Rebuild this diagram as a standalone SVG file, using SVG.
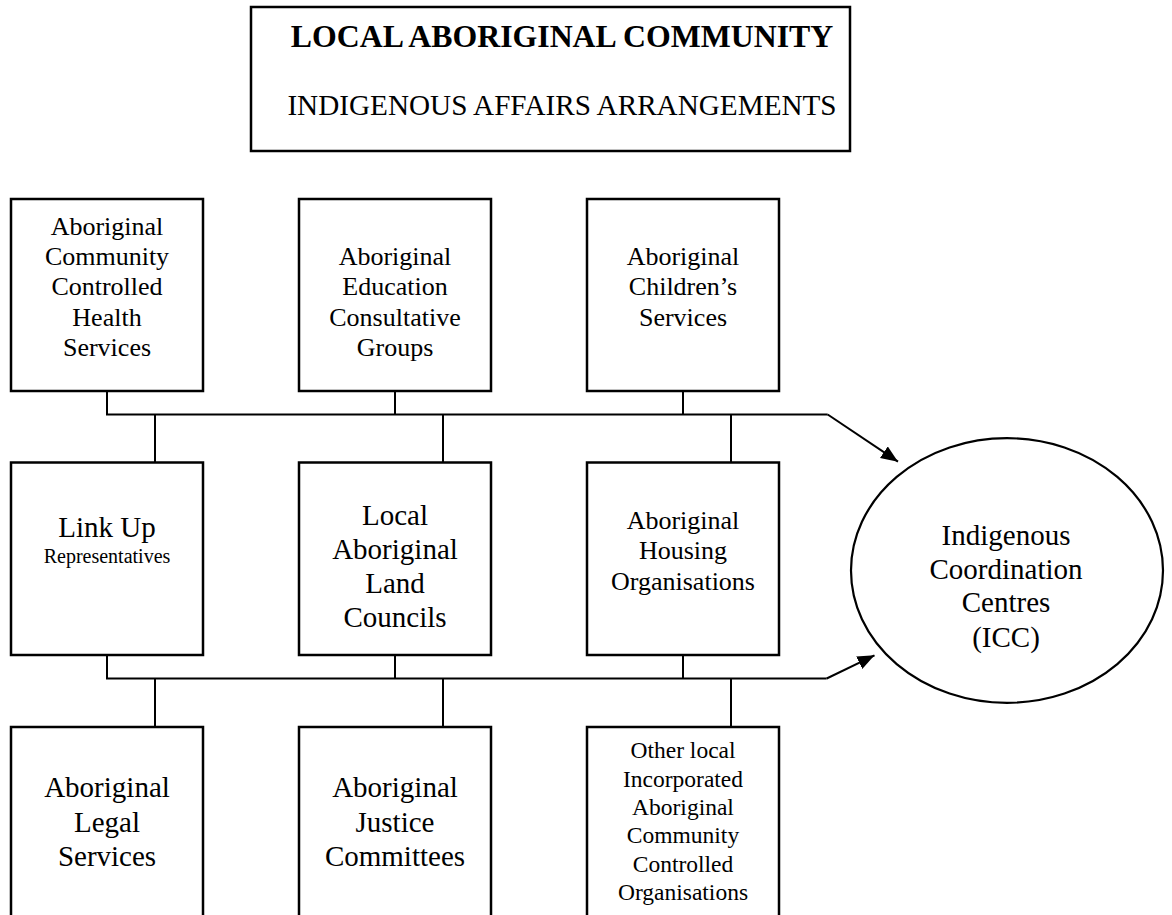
<svg xmlns="http://www.w3.org/2000/svg" width="1172" height="915" viewBox="0 0 1172 915">
<style>
  .box { fill: #ffffff; stroke: #000000; stroke-width: 2.5; }
  .ell { fill: #ffffff; stroke: #000000; stroke-width: 2.2; }
  .ln { fill: none; stroke: #000000; stroke-width: 2; }
  text { font-family: "Liberation Serif", "Times New Roman", serif; fill: #000000; text-anchor: middle; }
  .t26 { font-size: 26px; }
  .t29 { font-size: 29px; }
  .t24 { font-size: 23.5px; }
  .t20 { font-size: 20px; }
  .h1 { font-size: 31.8px; font-weight: bold; }
  .h2 { font-size: 29.2px; }
</style>
<defs>
  <marker id="arr" markerUnits="userSpaceOnUse" markerWidth="20" markerHeight="16" refX="17" refY="7" orient="auto">
    <path d="M0,0 L17,7 L0,14 Z" fill="#000000"/>
  </marker>
</defs>
<rect width="1172" height="915" fill="#ffffff"/>

<g id="title">
  <rect class="box" x="251" y="7" width="599" height="144"/>
  <text class="h1" x="562" y="47">LOCAL ABORIGINAL COMMUNITY</text>
  <text class="h2" x="562" y="115">INDIGENOUS AFFAIRS ARRANGEMENTS</text>
</g>

<g id="connectors">
  <polyline class="ln" points="107,391 107,414.5 827.7,414.5"/>
  <line class="ln" x1="395" y1="391" x2="395" y2="414.5"/>
  <line class="ln" x1="683" y1="391" x2="683" y2="414.5"/>
  <line class="ln" x1="155" y1="414.5" x2="155" y2="462.5"/>
  <line class="ln" x1="443" y1="414.5" x2="443" y2="462.5"/>
  <line class="ln" x1="731" y1="414.5" x2="731" y2="462.5"/>
  <line class="ln" x1="827.7" y1="414.5" x2="898" y2="461.7" marker-end="url(#arr)"/>

  <polyline class="ln" points="107,655 107,678.5 826.7,678.5"/>
  <line class="ln" x1="395" y1="655" x2="395" y2="678.5"/>
  <line class="ln" x1="683" y1="655" x2="683" y2="678.5"/>
  <line class="ln" x1="155" y1="678.5" x2="155" y2="727"/>
  <line class="ln" x1="443" y1="678.5" x2="443" y2="727"/>
  <line class="ln" x1="731" y1="678.5" x2="731" y2="727"/>
  <line class="ln" x1="826.7" y1="678.5" x2="874.5" y2="655.3" marker-end="url(#arr)"/>
</g>

<g id="health">
  <rect class="box" x="11" y="199" width="192" height="192"/>
  <text class="t26" x="107" y="234.5">Aboriginal</text>
  <text class="t26" x="107" y="265">Community</text>
  <text class="t26" x="107" y="295.3">Controlled</text>
  <text class="t26" x="107" y="325.7">Health</text>
  <text class="t26" x="107" y="356">Services</text>
</g>

<g id="education">
  <rect class="box" x="299" y="199" width="192" height="192"/>
  <text class="t26" x="395" y="265">Aboriginal</text>
  <text class="t26" x="395" y="295.3">Education</text>
  <text class="t26" x="395" y="325.7">Consultative</text>
  <text class="t26" x="395" y="356">Groups</text>
</g>

<g id="children">
  <rect class="box" x="587" y="199" width="192" height="192"/>
  <text class="t26" x="683" y="265">Aboriginal</text>
  <text class="t26" x="683" y="295.3">Children’s</text>
  <text class="t26" x="683" y="325.7">Services</text>
</g>

<g id="linkup">
  <rect class="box" x="11" y="462.5" width="192" height="192.5"/>
  <text class="t29" x="107" y="536.7">Link Up</text>
  <text class="t20" x="107" y="563.3">Representatives</text>
</g>

<g id="landcouncils">
  <rect class="box" x="299" y="462.5" width="192" height="192.5"/>
  <text class="t29" x="395" y="525">Local</text>
  <text class="t29" x="395" y="558.5">Aboriginal</text>
  <text class="t29" x="395" y="593">Land</text>
  <text class="t29" x="395" y="626.7">Councils</text>
</g>

<g id="housing">
  <rect class="box" x="587" y="462.5" width="192" height="192.5"/>
  <text class="t26" x="683" y="529">Aboriginal</text>
  <text class="t26" x="683" y="559.4">Housing</text>
  <text class="t26" x="683" y="589.8">Organisations</text>
</g>

<g id="legal">
  <rect class="box" x="11" y="727" width="192" height="200"/>
  <text class="t29" x="107" y="797.3">Aboriginal</text>
  <text class="t29" x="107" y="831.5">Legal</text>
  <text class="t29" x="107" y="865.7">Services</text>
</g>

<g id="justice">
  <rect class="box" x="299" y="727" width="192" height="200"/>
  <text class="t29" x="395" y="797.3">Aboriginal</text>
  <text class="t29" x="395" y="831.5">Justice</text>
  <text class="t29" x="395" y="865.7">Committees</text>
</g>

<g id="other">
  <rect class="box" x="587" y="727" width="192" height="200"/>
  <text class="t24" x="683" y="758.3">Other local</text>
  <text class="t24" x="683" y="786.6">Incorporated</text>
  <text class="t24" x="683" y="814.9">Aboriginal</text>
  <text class="t24" x="683" y="843.2">Community</text>
  <text class="t24" x="683" y="871.5">Controlled</text>
  <text class="t24" x="683" y="899.8">Organisations</text>
</g>

<g id="icc">
  <ellipse class="ell" cx="1007" cy="570.5" rx="156" ry="132.3"/>
  <text class="t29" x="1006" y="545">Indigenous</text>
  <text class="t29" x="1006" y="579">Coordination</text>
  <text class="t29" x="1006" y="612">Centres</text>
  <text class="t29" x="1006" y="646.5">(ICC)</text>
</g>
</svg>
